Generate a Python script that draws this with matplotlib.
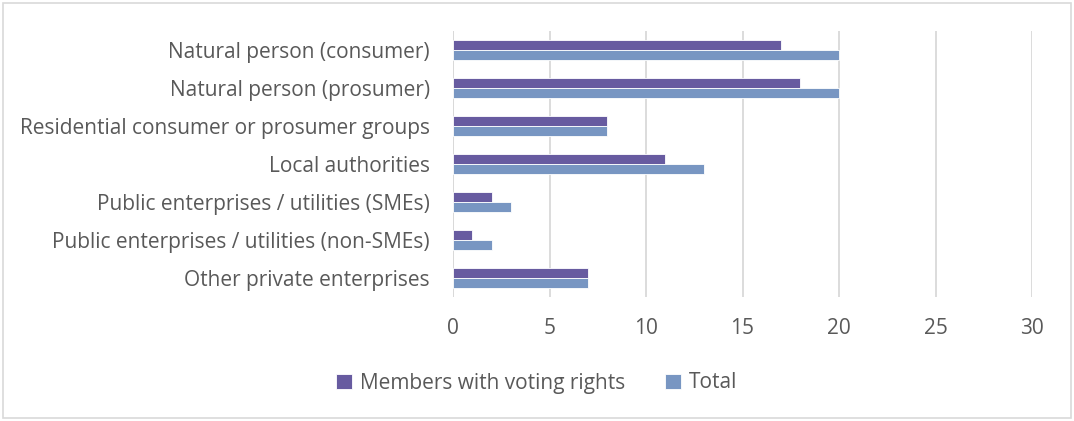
import matplotlib.pyplot as plt
import numpy as np
from matplotlib.patches import FancyBboxPatch

categories = ["Natural person (consumer)",
              "Natural person (prosumer)",
              "Residential consumer or prosumer groups",
              "Local authorities",
              "Public enterprises / utilities (SMEs)",
              "Public enterprises / utilities (non-SMEs)",
              "Other private enterprises"]
voting = [17, 18, 8, 11, 2, 1, 7]
total = [20, 20, 8, 13, 3, 2, 7]
series_names = ["Members with voting rights", "Total"]

purple = "#675BA0"
blue = "#7896C2"
text_col = "#595959"
grid_col = "#D9D9D9"
fs = 15

plt.rcParams['font.family'] = ['Open Sans', 'DejaVu Sans']

fig = plt.figure(figsize=(10.74, 4.21), dpi=100)
ax = fig.add_axes([453 / 1074, 1 - 297 / 421, 579 / 1074, 266 / 421])

y = np.arange(len(categories))
h = 0.263
ax.barh(y - h / 2, voting, height=h, color=purple, edgecolor="white",
        linewidth=0.6, label=series_names[0], zorder=3)
ax.barh(y + h / 2, total, height=h, color=blue, edgecolor="white",
        linewidth=0.6, label=series_names[1], zorder=3)

ax.set_xlim(0, 30)
ax.set_ylim(len(categories) - 0.5, -0.5)
ax.set_xticks(range(0, 31, 5))
ax.set_yticks(y)
ax.set_yticklabels(categories)
ax.xaxis.grid(True, color=grid_col, linewidth=1.3, zorder=0)
ax.tick_params(axis="both", length=0, labelsize=fs, colors=text_col)
ax.tick_params(axis="x", pad=15)
ax.tick_params(axis="y", pad=16.5)
for s in ax.spines.values():
    s.set_visible(False)
ax.axvline(0, color=grid_col, linewidth=1.3, zorder=1)

leg = fig.legend(loc="center", bbox_to_anchor=(0.5, 1 - 383 / 421), ncol=2,
                 frameon=False, fontsize=fs, handlelength=0.75,
                 handleheight=0.75, columnspacing=1.9, handletextpad=0.4)
for t in leg.get_texts():
    t.set_color(text_col)

# light frame around the whole chart
fig.patches.append(FancyBboxPatch((3 / 1074, 3 / 421), 1068 / 1074, 415 / 421,
                                  boxstyle="square,pad=0", transform=fig.transFigure,
                                  fill=False, edgecolor=grid_col, linewidth=1.2))

fig.savefig("out.png", dpi=100)
